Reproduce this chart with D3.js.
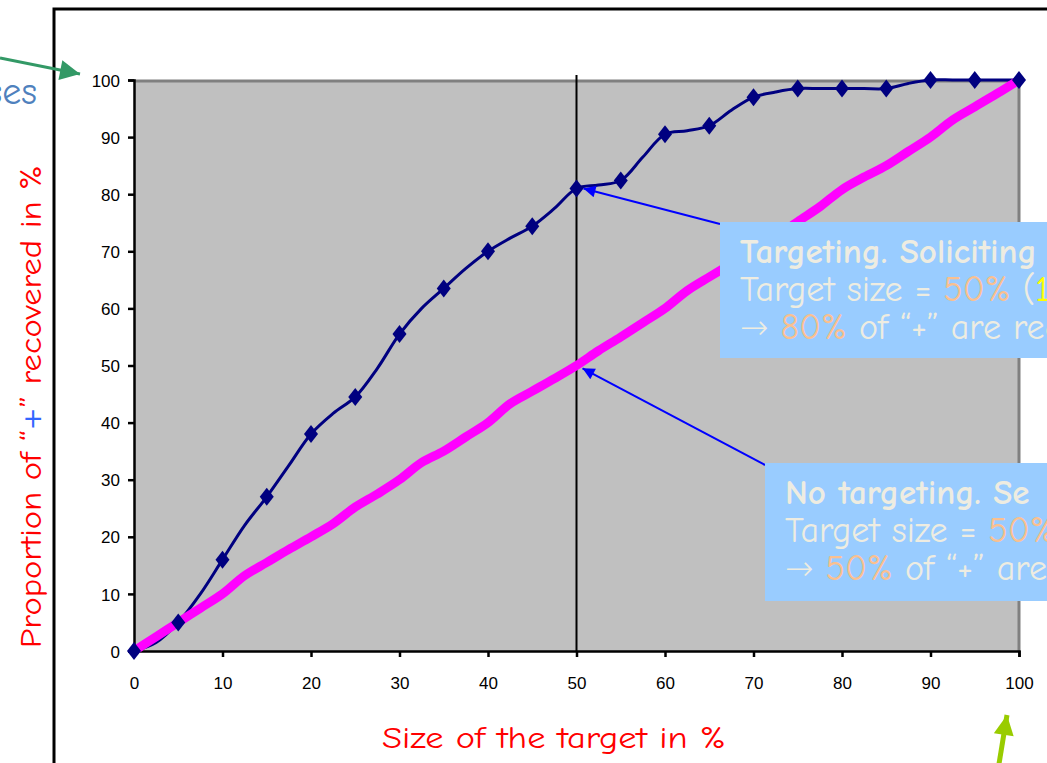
<!DOCTYPE html>
<html>
<head>
<meta charset="utf-8">
<script src="https://cdn.jsdelivr.net/npm/d3@7"></script>
<style>
  html, body { margin: 0; padding: 0; background: #fff; overflow: hidden; }
  svg { display: block; }
</style>
</head>
<body>
<script>
// Share of target group solicited (x) vs. share of positive responses "+" recovered (y)
const targetSize = [0, 2.5, 5, 7.5, 10, 12.5, 15, 17.5, 20, 22.5, 25, 27.5, 30, 32.5, 35, 37.5, 40,
  42.5, 45, 47.5, 50, 52.5, 55, 57.5, 60, 62.5, 65, 67.5, 70, 72.5, 75, 77.5, 80, 82.5, 85, 87.5,
  90, 92.5, 95, 97.5, 100];
// With targeting (scored list)
const recoveredTargeted = [0, 1.5, 5, 10, 16, 22, 27, 32.5, 38, 41.6, 44.5, 49.5, 55.5, 60, 63.5, 67,
  70, 72.3, 74.4, 77.5, 81, 81.6, 82.4, 86.5, 90.5, 91.1, 92, 94.7, 97, 97.9, 98.5, 98.5, 98.5, 98.5,
  98.5, 99.4, 100, 100, 100, 100, 100];
// Without targeting (random selection)
const recoveredRandom = [0, 2.5, 5, 7.5, 10, 13.2, 15.5, 17.8, 20, 22.3, 25.2, 27.5, 30, 33, 35,
  37.5, 40, 43.3, 45.5, 47.7, 50, 52.6, 55, 57.5, 60, 63.1, 65.5, 67.8, 70, 72.5, 75.2, 77.8, 80.8,
  83, 85, 87.5, 90, 93, 95.3, 97.6, 100];
const markerStep = 5;
const xTicks = [0, 10, 20, 30, 40, 50, 60, 70, 80, 90, 100];
const yTicks = [0, 10, 20, 30, 40, 50, 60, 70, 80, 90, 100];
const highlightSize = 50;

const W = 1047, H = 763;
const svg = d3.select("body").append("svg").attr("width", W).attr("height", H);

const handFont = "'Comic Sans MS', 'Comic Neue', 'Open Sans', sans-serif";
const symFont = "'DejaVu Sans', sans-serif";
const axisFont = "'Liberation Sans', Arial, sans-serif";

const x = d3.scaleLinear().domain([0, 100]).range([134, 1019]);
const y = d3.scaleLinear().domain([0, 100]).range([651, 80]);

// arrow heads
const defs = svg.append("defs");
function head(id, color, w, h) {
  defs.append("marker").attr("id", id).attr("viewBox", "0 0 10 10")
    .attr("refX", 10).attr("refY", 5).attr("markerUnits", "userSpaceOnUse")
    .attr("markerWidth", w).attr("markerHeight", h).attr("orient", "auto")
    .append("path").attr("d", "M0,0 L10,5 L0,10 Z").attr("fill", color);
}
head("hBlue", "#0000ff", 16, 12);
head("hGreen", "#339966", 24, 20);
head("hLime", "#99cc00", 24, 20);

// slide frame
svg.append("path").attr("d", "M54,763 L54,9 L1047,9")
  .attr("fill", "none").attr("stroke", "#000").attr("stroke-width", 3);

// plot area
svg.append("rect").attr("x", x(0)).attr("y", y(100)).attr("width", x(100) - x(0))
  .attr("height", y(0) - y(100)).attr("fill", "#c0c0c0");
svg.append("path").attr("d", `M${x(0)},${y(100) + 1} L${x(100)},${y(100) + 1} L${x(100)},${y(0)}`)
  .attr("fill", "none").attr("stroke", "#808080").attr("stroke-width", 3);

// axes
const yAxis = svg.append("g").attr("transform", `translate(${x(0)},0)`)
  .call(d3.axisLeft(y).tickValues(yTicks).tickSize(6).tickPadding(8).tickFormat(d3.format("d")));
const xAxis = svg.append("g").attr("transform", `translate(0,${y(0)})`)
  .call(d3.axisBottom(x).tickValues(xTicks).tickSize(6).tickPadding(20).tickFormat(d3.format("d")));
[yAxis, xAxis].forEach(g => {
  g.select(".domain").attr("stroke", "#000").attr("stroke-width", 2.5);
  g.selectAll(".tick line").attr("stroke", "#000").attr("stroke-width", 2.5);
  g.selectAll(".tick text").attr("font-family", axisFont).attr("font-size", 17).attr("fill", "#000");
});
yAxis.selectAll(".tick text").attr("dy", "0.36em");

// reference line at 50%
svg.append("line").attr("x1", x(highlightSize)).attr("x2", x(highlightSize))
  .attr("y1", y(100) - 5).attr("y2", y(0)).attr("stroke", "#000").attr("stroke-width", 2);

const pts = (vals) => targetSize.map((t, i) => [t, vals[i]]);
const line = d3.line().x(d => x(d[0])).y(d => y(d[1])).curve(d3.curveCatmullRom.alpha(0.5));

svg.append("path").datum(pts(recoveredTargeted)).attr("d", line)
  .attr("fill", "none").attr("stroke", "#000080").attr("stroke-width", 3);
svg.append("path").datum(pts(recoveredRandom)).attr("d", line)
  .attr("fill", "none").attr("stroke", "#ff00ff").attr("stroke-width", 9).attr("stroke-linejoin", "round");

svg.selectAll("path.mk").data(pts(recoveredTargeted).filter(d => d[0] % markerStep === 0))
  .join("path").attr("class", "mk")
  .attr("transform", d => `translate(${x(d[0])},${y(d[1])})`)
  .attr("d", "M0,-9 L7,0 L0,9 L-7,0 Z").attr("fill", "#000080");

// axis titles
svg.append("text").attr("x", 382).attr("y", 748).attr("textLength", 344).attr("lengthAdjust", "spacingAndGlyphs")
  .attr("font-family", handFont).attr("font-size", 30).attr("fill", "#ff0000")
  .text("Size of the target in %");
const yt = svg.append("text").attr("transform", "translate(41,648) rotate(-90)")
  .attr("textLength", 483).attr("lengthAdjust", "spacingAndGlyphs")
  .attr("font-family", handFont).attr("font-size", 30).attr("fill", "#ff0000");
yt.append("tspan").text("Proportion of \u201C");
yt.append("tspan").attr("fill", "#3366ff").attr("font-family", symFont).attr("font-size", 24).text("+");
yt.append("tspan").text("\u201D recovered in %");

// side note and pointers
svg.append("text").attr("x", 37).attr("y", 104).attr("text-anchor", "end")
  .attr("font-family", handFont).attr("font-size", 38).attr("fill", "#4f81bd").text("ses");
svg.append("line").attr("x1", 0).attr("y1", 58).attr("x2", 80).attr("y2", 74)
  .attr("stroke", "#339966").attr("stroke-width", 3).attr("marker-end", "url(#hGreen)");
svg.append("line").attr("x1", 998).attr("y1", 770).attr("x2", 1007).attr("y2", 715)
  .attr("stroke", "#99cc00").attr("stroke-width", 5).attr("marker-end", "url(#hLime)");

// callouts
function callout(bx, by, bh, tip, lines) {
  svg.append("line").attr("x1", bx).attr("y1", by + 2).attr("x2", tip[0]).attr("y2", tip[1])
    .attr("stroke", "#0000ff").attr("stroke-width", 2).attr("marker-end", "url(#hBlue)");
  svg.append("rect").attr("x", bx).attr("y", by).attr("width", W - bx + 10).attr("height", bh)
    .attr("fill", "#99ccff");
  lines.forEach((ln, i) => {
    const t = svg.append("text").attr("x", bx + 20).attr("y", by + 41 + i * 38)
      .attr("font-family", handFont).attr("font-size", i === 0 ? 35 : 36).attr("fill", "#eeece1")
      .attr("font-weight", i === 0 ? "bold" : "normal").attr("xml:space", "preserve");
    ln.forEach(([s, c, f]) => {
      const sp = t.append("tspan").attr("fill", c || "#eeece1").text(s);
      if (f) sp.attr("font-family", symFont).attr("font-size", 34).attr("font-weight", 300);
    });
  });
}
callout(720, 222, 136, [x(highlightSize) + 7, y(81)], [
  [["Targeting. Soliciting"]],
  [["Target size = "], ["50%", "#fac090"], [" ("], ["1", "#ffff00"]],
  [["\u2192", null, true], [" "], ["80%", "#fac090"], [" of \u201C+\u201D are rec"]]
]);
callout(765, 463, 138, [x(highlightSize) + 6, y(49.5)], [
  [["No targeting. Se"]],
  [["Target size = "], ["50%", "#fac090"]],
  [["\u2192", null, true], [" "], ["50%", "#fac090"], [" of \u201C+\u201D are"]]
]);
</script>
</body>
</html>
